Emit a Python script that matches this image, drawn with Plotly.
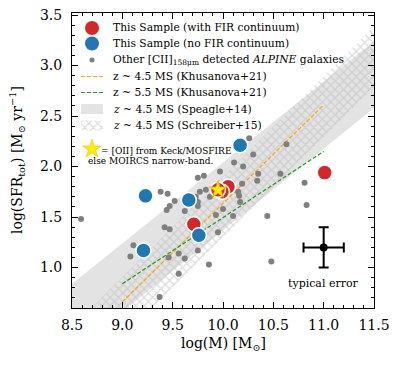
import plotly.graph_objects as go

# ---------------- data ----------------
gray_mass = [8.59, 10.26, 10.63, 10.30, 10.11, 10.20, 9.97, 9.81, 9.75, 10.35, 10.57, 10.34,
             10.19, 10.81, 9.38, 9.45, 9.77, 9.83, 9.73, 10.15, 10.16, 9.52, 9.47, 9.44,
             9.62, 9.75, 9.75, 9.87, 10.00, 10.17, 10.83, 9.93, 10.10, 10.44, 9.42, 9.47,
             9.95, 9.11, 9.08, 9.56, 9.62, 9.46, 9.75, 10.48, 9.86, 9.56, 9.37]
gray_sfr = [1.48, 2.28, 2.22, 2.12, 2.04, 2.00, 1.95, 1.91, 1.89, 1.93, 1.93, 1.86,
            1.83, 1.84, 1.75, 1.73, 1.75, 1.77, 1.70, 1.75, 1.71, 1.66, 1.61, 1.57,
            1.56, 1.61, 1.65, 1.70, 1.58, 1.65, 1.62, 1.52, 1.51, 1.51, 1.40, 1.38,
            1.35, 1.22, 1.11, 1.14, 1.09, 1.10, 1.17, 1.06, 1.03, 0.94, 0.71]

blue_mass = [10.17, 9.23, 9.66, 9.76, 9.21]
blue_sfr = [2.21, 1.71, 1.67, 1.32, 1.17]

red_mass = [11.01, 10.05, 9.99, 9.95, 9.71]
red_sfr = [1.94, 1.80, 1.75, 1.77, 1.43]

star_mass = [9.95]
star_sfr = [1.77]

# main-sequence relations (end points)
speagle_mass = [8.5, 11.5]
speagle_lo = [0.16, 2.58]
speagle_hi = [0.84, 3.24]

schreiber_mass = [8.5, 11.5]
schreiber_lo = [-0.19, 2.79]
schreiber_hi = [0.41, 3.39]

khus45_mass = [9.0, 11.0]
khus45_sfr = [0.66, 2.61]
khus55_mass = [9.0, 11.0]
khus55_sfr = [0.84, 2.15]

err_mass = [11.0]
err_sfr = [1.20]
err_dx = [0.2]
err_dy = [0.2]

x_ticks = [8.5, 9.0, 9.5, 10.0, 10.5, 11.0, 11.5]
y_ticks = [1.0, 1.5, 2.0, 2.5, 3.0, 3.5]

# ---------------- styles ----------------
SERIF = "DejaVu Serif"
RED = "#d62728"
BLUE = "#1f77b4"
GRAY = "#7f7f7f"
BAND = "#e3e3e3"
HATCH = "#bcbcbc"
ORANGE = "#ffa500"
GREEN = "#1e9a1e"

fig = go.Figure()

# Speagle band
fig.add_trace(go.Scatter(
    x=speagle_mass + speagle_mass[::-1], y=speagle_hi + speagle_lo[::-1],
    fill="toself", fillcolor=BAND, line=dict(width=0), mode="lines",
    hoverinfo="skip", showlegend=False))
# Schreiber hatched band
fig.add_trace(go.Scatter(
    x=schreiber_mass + schreiber_mass[::-1], y=schreiber_hi + schreiber_lo[::-1],
    fill="toself", fillcolor="rgba(0,0,0,0)",
    fillpattern=dict(shape="x", fgcolor=HATCH, bgcolor="rgba(0,0,0,0)", size=6, solidity=0.4),
    line=dict(width=0), mode="lines", hoverinfo="skip", showlegend=False))

# Khusanova lines
fig.add_trace(go.Scatter(x=khus45_mass, y=khus45_sfr, mode="lines",
                         line=dict(color=ORANGE, width=1.2, dash="4px,2px"), showlegend=False))
fig.add_trace(go.Scatter(x=khus55_mass, y=khus55_sfr, mode="lines",
                         line=dict(color=GREEN, width=1.2, dash="4px,2px"), showlegend=False))

# other ALPINE galaxies
fig.add_trace(go.Scatter(x=gray_mass, y=gray_sfr, mode="markers",
                         marker=dict(color=GRAY, size=6, line=dict(width=0)), showlegend=False))

# this sample
fig.add_trace(go.Scatter(x=red_mass, y=red_sfr, mode="markers",
                         marker=dict(color=RED, size=15, line=dict(color="white", width=1.5)),
                         showlegend=False))
fig.add_trace(go.Scatter(x=blue_mass, y=blue_sfr, mode="markers",
                         marker=dict(color=BLUE, size=15, line=dict(color="white", width=1.5)),
                         showlegend=False))
fig.add_trace(go.Scatter(x=star_mass, y=star_sfr, mode="markers",
                         marker=dict(symbol="star", color="#ffee00", size=13,
                                     line=dict(color="#e8a000", width=0.8)),
                         showlegend=False))

# typical error
fig.add_trace(go.Scatter(x=err_mass, y=err_sfr, mode="markers",
                         marker=dict(color="black", size=8),
                         error_x=dict(type="data", array=err_dx, color="black", thickness=2, width=5),
                         error_y=dict(type="data", array=err_dy, color="black", thickness=2, width=5),
                         showlegend=False))
fig.add_annotation(x=err_mass[0], y=0.845, xref="x", yref="y", text="typical error",
                   showarrow=False, font=dict(family=SERIF, size=11, color="black"))

# ---------------- manual legend (pixel-space overlay axes) ----------------
L, R, T, B = 72, 374, 13, 308
rows = [28, 43.5, 60, 76.5, 92.5, 109, 125.5]
mx = 92

def px(x):
    return (x - L) / (R - L)

def py(y):
    return (B - y) / (B - T)

leg_kw = dict(xaxis="x2", yaxis="y2", showlegend=False, hoverinfo="skip")
fig.add_trace(go.Scatter(x=[mx], y=[rows[0]], mode="markers",
                         marker=dict(color=RED, size=14, line=dict(width=0)), **leg_kw))
fig.add_trace(go.Scatter(x=[mx], y=[rows[1]], mode="markers",
                         marker=dict(color=BLUE, size=14, line=dict(width=0)), **leg_kw))
fig.add_trace(go.Scatter(x=[mx], y=[rows[2]], mode="markers",
                         marker=dict(color=GRAY, size=5, line=dict(width=0)), **leg_kw))
fig.add_trace(go.Scatter(x=[81, 103], y=[rows[3], rows[3]], mode="lines",
                         line=dict(color=ORANGE, width=1.2, dash="4px,2px"), **leg_kw))
fig.add_trace(go.Scatter(x=[81, 103], y=[rows[4], rows[4]], mode="lines",
                         line=dict(color=GREEN, width=1.2, dash="4px,2px"), **leg_kw))
fig.add_trace(go.Scatter(x=[81, 103, 103, 81, 81],
                         y=[rows[5] - 5, rows[5] - 5, rows[5] + 5, rows[5] + 5, rows[5] - 5],
                         fill="toself", fillcolor=BAND, line=dict(width=0), mode="lines", **leg_kw))
fig.add_trace(go.Scatter(x=[81, 103, 103, 81, 81],
                         y=[rows[6] - 5, rows[6] - 5, rows[6] + 5, rows[6] + 5, rows[6] - 5],
                         fill="toself", fillcolor="rgba(0,0,0,0)",
                         fillpattern=dict(shape="x", fgcolor=HATCH, bgcolor="white", size=6, solidity=0.4),
                         line=dict(width=0), mode="lines", **leg_kw))
fig.add_trace(go.Scatter(x=[92], y=[149], mode="markers",
                         marker=dict(symbol="star", color="#ffee00", size=14,
                                     line=dict(color="#e8c000", width=0.6)), **leg_kw))

legend_texts = [
    "This Sample (with FIR continuum)",
    "This Sample (no FIR continuum)",
    "Other [CII]<sub>158μm</sub> detected <i>ALPINE</i> galaxies",
    "z ~ 4.5 MS (Khusanova+21)",
    "z ~ 5.5 MS (Khusanova+21)",
    "<i>z</i> ~ 4.5 MS (Speagle+14)",
    "<i>z</i> ~ 4.5 MS (Schreiber+15)",
]
for yy, txt in zip(rows, legend_texts):
    fig.add_annotation(x=px(111), y=py(yy), xref="paper", yref="paper", text=txt,
                       showarrow=False, xanchor="left", yanchor="middle",
                       font=dict(family=SERIF, size=10.7, color="black"))
fig.add_annotation(x=px(99), y=py(151), xref="paper", yref="paper",
                   text="= [OII] from Keck/MOSFIRE", showarrow=False,
                   xanchor="left", yanchor="middle", font=dict(family=SERIF, size=9, color="black"))
fig.add_annotation(x=px(86), y=py(161), xref="paper", yref="paper",
                   text="else MOIRCS narrow-band.", showarrow=False,
                   xanchor="left", yanchor="middle", font=dict(family=SERIF, size=9, color="black"))

# axis titles
fig.add_annotation(x=px(223), y=py(344), xref="paper", yref="paper",
                   text="log(M) [M<sub>⊙</sub>]", showarrow=False,
                   xanchor="center", yanchor="middle", font=dict(family=SERIF, size=14, color="black"))
fig.add_annotation(x=px(17), y=py(160), xref="paper", yref="paper",
                   text="log(SFR<sub>tot</sub>) [M<sub>⊙</sub> yr<sup>−1</sup>]", showarrow=False,
                   textangle=-90, xanchor="center", yanchor="middle",
                   font=dict(family=SERIF, size=14, color="black"))

axis_common = dict(
    showgrid=False, zeroline=False, showline=True, linecolor="black", linewidth=1,
    mirror="ticks", ticks="inside", ticklen=6, tickwidth=1, tickcolor="black",
    tickfont=dict(family=SERIF, size=14, color="black"), automargin=False,
    minor=dict(ticks="inside", ticklen=3, tickwidth=0.8, tickcolor="black", dtick=0.1),
)

fig.update_layout(
    width=399, height=369,
    margin=dict(l=L, r=399 - R, t=T, b=369 - B, autoexpand=False),
    paper_bgcolor="white", plot_bgcolor="white",
    showlegend=False,
    xaxis=dict(range=[8.5, 11.5], tickvals=x_ticks, ticktext=[f"{v:.1f}" for v in x_ticks],
               ticklabelstandoff=4, **axis_common),
    yaxis=dict(range=[0.6, 3.52], tickvals=y_ticks, ticktext=[f"{v:.1f}" for v in y_ticks],
               ticklabelstandoff=6, **axis_common),
    xaxis2=dict(range=[L, R], overlaying="x", anchor="y2", visible=False, fixedrange=True,
                automargin=False),
    yaxis2=dict(range=[B, T], overlaying="y", anchor="x2", visible=False, fixedrange=True,
                automargin=False),
)

fig.write_html("out.html", config={"displayModeBar": False},
               post_script="document.body.style.margin='0';")
